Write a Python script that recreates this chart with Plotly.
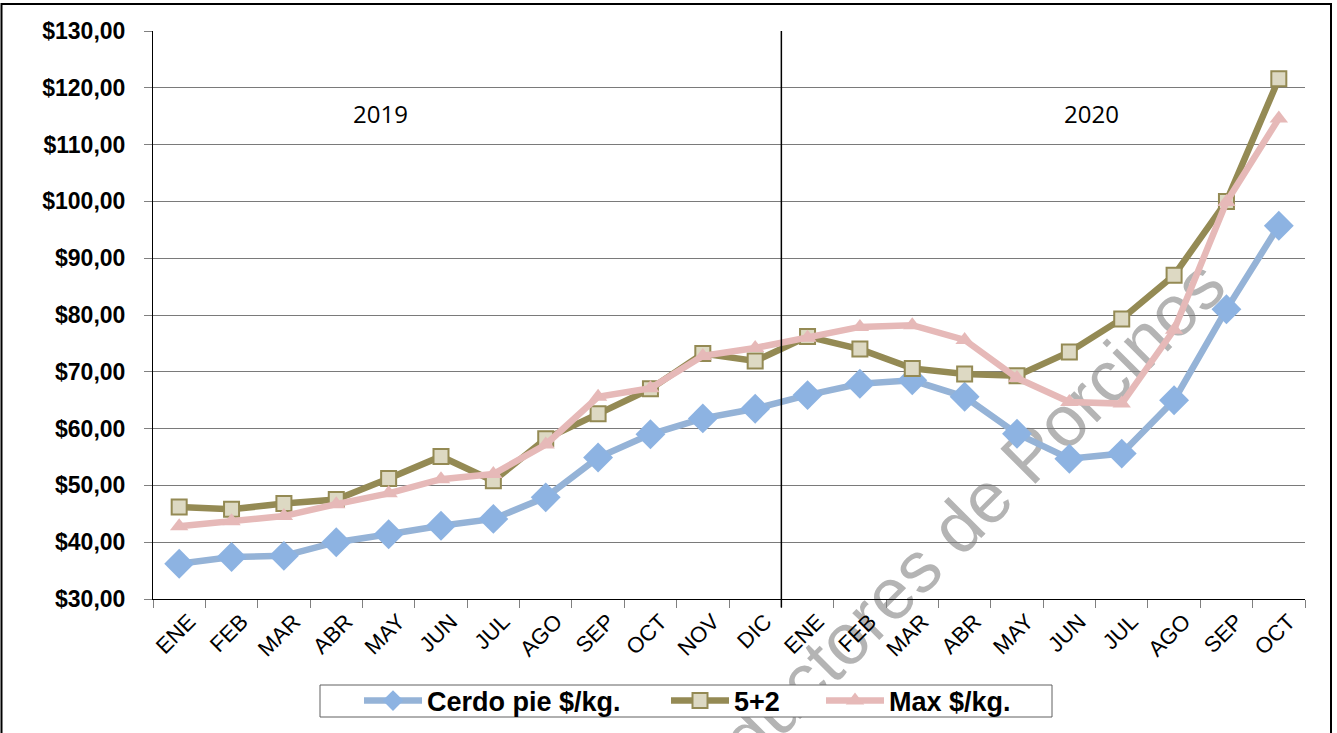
import plotly.graph_objects as go

months = ["ENE", "FEB", "MAR", "ABR", "MAY", "JUN", "JUL", "AGO", "SEP", "OCT", "NOV", "DIC",
          "ENE", "FEB", "MAR", "ABR", "MAY", "JUN", "JUL", "AGO", "SEP", "OCT"]
cerdo_pie = [36.2, 37.4, 37.6, 40.0, 41.4, 42.9, 44.1, 47.9, 54.9, 59.0, 61.8, 63.5,
             65.9, 67.9, 68.5, 65.6, 59.1, 54.7, 55.6, 65.0, 81.0, 95.7]
cinco_dos = [46.2, 45.8, 46.8, 47.5, 51.2, 55.1, 50.8, 58.2, 62.6, 67.0, 73.2, 71.9,
             76.2, 74.0, 70.6, 69.6, 69.3, 73.5, 79.3, 87.0, 100.0, 121.6]
max_kg = [42.8, 43.7, 44.6, 46.7, 48.6, 51.1, 52.0, 57.2, 65.6, 67.1, 72.8, 74.2,
          76.0, 77.9, 78.2, 75.6, 68.9, 64.7, 64.4, 77.4, 99.9, 114.6]
series_names = ["Cerdo pie $/kg.", "5+2", "Max $/kg."]
y_ticks = [30, 40, 50, 60, 70, 80, 90, 100, 110, 120, 130]
y_ticktext = ["$%d,00" % v for v in y_ticks]
year_labels = ["2019", "2020"]
watermark = "Productores de Porcinos"

x = list(range(len(months)))
FONT = "Arial, 'Liberation Sans', sans-serif"

# pixel helpers (plot area: x 153..1305, y 31..599)
def px(xp):
    return (xp - 153) / 1152

def py(yp):
    return (599 - yp) / 568

fig = go.Figure()
fig.add_trace(go.Scatter(
    x=x, y=cerdo_pie, name=series_names[0], mode="lines+markers", legend="legend",
    line=dict(color="#95B3D7", width=6.5),
    marker=dict(symbol="diamond", size=23, color="#8DB3E2", line=dict(width=0)),
))
fig.add_trace(go.Scatter(
    x=x, y=cinco_dos, name=series_names[1], mode="lines+markers", legend="legend2",
    line=dict(color="#948A54", width=6.5),
    marker=dict(symbol="square", size=15, color="#DDD9C3", line=dict(width=2, color="#948A54")),
))
fig.add_trace(go.Scatter(
    x=x, y=max_kg, name=series_names[2], mode="lines+markers", legend="legend3",
    line=dict(color="#E6B9B8", width=6.5),
    marker=dict(symbol="triangle-up", size=16, color="#E6B9B8", line=dict(width=0)),
))

leg_common = dict(orientation="h", y=py(701), xanchor="left", yanchor="middle",
                  borderwidth=0, bgcolor="rgba(0,0,0,0)",
                  font=dict(size=27, family=FONT, weight="bold", color="black"),
                  itemwidth=58)

fig.update_layout(
    width=1337, height=733,
    margin=dict(l=153, r=32, t=31, b=134, autoexpand=False),
    paper_bgcolor="white", plot_bgcolor="rgba(0,0,0,0)",
    font=dict(family=FONT, color="black"),
    showlegend=True,
    legend=dict(x=px(359), **leg_common),
    legend2=dict(x=px(666), **leg_common),
    legend3=dict(x=px(821), **leg_common),
    xaxis=dict(
        range=[-0.5, len(months) - 0.5],
        tickmode="array", tickvals=x, ticktext=months,
        tickangle=-45, ticks="", showgrid=False,
        tickfont=dict(size=22, family=FONT),
        ticklabelshift=10,
        showline=True, linecolor="black", linewidth=1,
        minor=dict(tickmode="linear", tick0=0.5, dtick=1, ticks="outside", ticklen=8,
                   tickcolor="#808080", showgrid=False),
        zeroline=False,
    ),
    yaxis=dict(
        range=[30, 130],
        tickmode="array", tickvals=y_ticks, ticktext=y_ticktext,
        tickfont=dict(size=23, weight="bold", family=FONT),
        ticks="outside", ticklen=8, tickcolor="#808080",
        ticklabelstandoff=14,
        showgrid=True, gridcolor="#7a7a7a", gridwidth=1,
        showline=True, linecolor="black", linewidth=1,
        zeroline=False,
    ),
)

# watermark (below the data), drawn as a label on an invisible 45-degree line
cx, cy = 928, 546
fig.add_shape(type="line", xref="paper", yref="paper", layer="below",
              x0=px(cx - 100), y0=py(cy + 100), x1=px(cx + 100), y1=py(cy - 100),
              line=dict(color="rgba(0,0,0,0)", width=1),
              label=dict(text=watermark, textposition="middle", yanchor="middle",
                         font=dict(size=72, color="#b4b4b4", family=FONT)))

# legend frame (white, covers the watermark)
fig.add_shape(type="rect", xref="paper", yref="paper", layer="below",
              x0=px(320), x1=px(1052), y0=py(717), y1=py(685),
              line=dict(color="#606060", width=1), fillcolor="white")

# divider between years
fig.add_shape(type="line", xref="x", yref="paper", x0=11.5, x1=11.5, y0=-0.015, y1=1,
              line=dict(color="black", width=1.5))

# outer frame
fig.add_shape(type="rect", xref="paper", yref="paper",
              x0=px(1.5), x1=px(1331), y0=-0.3, y1=py(4),
              line=dict(color="black", width=2), fillcolor="rgba(0,0,0,0)")

fig.add_annotation(x=3.84, y=115.4, xref="x", yref="y", text=year_labels[0], showarrow=False,
                   font=dict(size=24, color="black", family="'Open Sans', sans-serif"))
fig.add_annotation(x=17.43, y=115.4, xref="x", yref="y", text=year_labels[1], showarrow=False,
                   font=dict(size=24, color="black", family="'Open Sans', sans-serif"))

fig.write_html("out.html", config={"displayModeBar": False},
               post_script="document.body.style.margin='0';")
